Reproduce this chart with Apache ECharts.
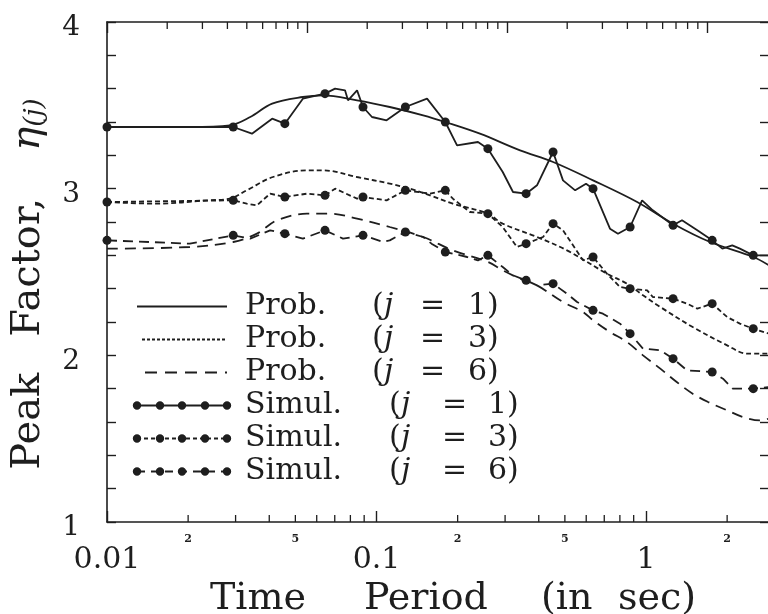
<!DOCTYPE html>
<html>
<head>
<meta charset="utf-8">
<title>Peak Factor vs Time Period</title>
<script src="https://cdn.jsdelivr.net/npm/echarts@6/dist/echarts.min.js"></script>
<style>
  html, body { margin: 0; padding: 0; background: #fff; }
  #chart { width: 768px; height: 614px; }
</style>
</head>
<body>
<div id="chart"></div>
<script>
// time period (sec) and peak factor
var probJ1T = [0.01, 0.0203, 0.0286, 0.034, 0.041, 0.0533, 0.0633, 0.0847, 0.112, 0.149, 0.180, 0.242, 0.341, 0.452, 0.636, 0.927, 1.26, 1.73, 2.50, 2.86];
var probJ1V = [3.37, 3.37, 3.38, 3.43, 3.51, 3.55, 3.56, 3.53, 3.49, 3.44, 3.40, 3.33, 3.23, 3.16, 3.05, 2.92, 2.79, 2.68, 2.59, 2.54];

var probJ3T = [0.01, 0.0153, 0.0235, 0.0286, 0.033, 0.0413, 0.0552, 0.0633, 0.0847, 0.112, 0.133, 0.158, 0.192, 0.259, 0.294, 0.394, 0.509, 0.716, 0.85, 0.975, 1.13, 1.49, 2.0, 2.37, 2.86];
var probJ3V = [2.92, 2.91, 2.93, 2.94, 2.99, 3.07, 3.11, 3.11, 3.07, 3.03, 3.00, 2.96, 2.91, 2.85, 2.79, 2.71, 2.63, 2.49, 2.43, 2.36, 2.29, 2.17, 2.06, 2.01, 2.01];

var probJ6T = [0.01, 0.0203, 0.0294, 0.036, 0.0427, 0.0552, 0.0672, 0.0847, 0.112, 0.149, 0.192, 0.259, 0.294, 0.341, 0.394, 0.492, 0.584, 0.636, 0.735, 0.85, 0.975, 1.13, 1.30, 1.49, 1.70, 2.0, 2.29, 2.65, 2.86];
var probJ6V = [2.64, 2.65, 2.68, 2.73, 2.81, 2.85, 2.85, 2.82, 2.77, 2.71, 2.63, 2.56, 2.51, 2.46, 2.42, 2.32, 2.26, 2.21, 2.14, 2.08, 2.00, 1.92, 1.84, 1.77, 1.72, 1.67, 1.63, 1.61, 1.62];

var simulJ1T = [0.01, 0.0294, 0.0345, 0.041, 0.0457, 0.0533, 0.0644, 0.0702, 0.0764, 0.0784, 0.0847, 0.0891, 0.0962, 0.109, 0.128, 0.154, 0.180, 0.199, 0.238, 0.259, 0.294, 0.321, 0.359, 0.394, 0.452, 0.492, 0.546, 0.599, 0.636, 0.735, 0.787, 0.873, 0.967, 1.06, 1.26, 1.36, 1.55, 1.76, 1.92, 2.09, 2.23, 2.50, 2.86];
var simulJ1V = [3.37, 3.37, 3.33, 3.42, 3.39, 3.54, 3.57, 3.60, 3.59, 3.53, 3.59, 3.49, 3.43, 3.41, 3.49, 3.54, 3.40, 3.26, 3.28, 3.24, 3.10, 2.98, 2.97, 3.02, 3.22, 3.05, 2.99, 3.03, 3.00, 2.76, 2.73, 2.77, 2.93, 2.87, 2.78, 2.81, 2.75, 2.69, 2.64, 2.66, 2.64, 2.60, 2.60];

var simulJ3T = [0.01, 0.0294, 0.033, 0.036, 0.0403, 0.0457, 0.0552, 0.0644, 0.0702, 0.0847, 0.0891, 0.109, 0.128, 0.158, 0.180, 0.192, 0.222, 0.259, 0.294, 0.332, 0.359, 0.415, 0.452, 0.492, 0.584, 0.636, 0.716, 0.801, 0.873, 1.01, 1.06, 1.26, 1.42, 1.55, 1.76, 2.0, 2.23, 2.50, 2.86];
var simulJ3V = [2.92, 2.93, 2.91, 2.90, 2.97, 2.95, 2.97, 2.96, 3.00, 2.94, 2.95, 2.93, 2.99, 2.97, 2.99, 2.94, 2.86, 2.85, 2.77, 2.65, 2.67, 2.71, 2.79, 2.75, 2.57, 2.59, 2.49, 2.41, 2.40, 2.39, 2.35, 2.34, 2.31, 2.28, 2.31, 2.23, 2.19, 2.16, 2.13];

var simulJ6T = [0.01, 0.0203, 0.0294, 0.034, 0.0403, 0.0457, 0.0533, 0.0644, 0.0751, 0.0891, 0.106, 0.112, 0.128, 0.149, 0.16, 0.180, 0.217, 0.238, 0.259, 0.294, 0.321, 0.359, 0.394, 0.452, 0.509, 0.555, 0.636, 0.692, 0.801, 0.873, 0.975, 1.13, 1.26, 1.42, 1.76, 1.93, 2.10, 2.50, 2.86];
var simulJ6V = [2.69, 2.67, 2.72, 2.70, 2.75, 2.73, 2.70, 2.75, 2.70, 2.72, 2.68, 2.69, 2.74, 2.71, 2.67, 2.62, 2.59, 2.57, 2.60, 2.53, 2.48, 2.45, 2.42, 2.43, 2.37, 2.32, 2.27, 2.25, 2.19, 2.13, 2.04, 2.03, 1.98, 1.91, 1.90, 1.86, 1.80, 1.80, 1.81];

// periods where the simulation markers sit
var simulDotT = [0.01, 0.0294, 0.0457, 0.0644, 0.0891, 0.128, 0.180, 0.259, 0.359, 0.452, 0.636, 0.873, 1.26, 1.76, 2.50];

// axis ticks / labels
var xTickValues = [0.01, 0.1, 1];
var xTickLabels = ['0.01', '0.1', '1'];
var xMinorTicks = [0.02, 0.03, 0.04, 0.05, 0.06, 0.07, 0.08, 0.09, 0.2, 0.3, 0.4, 0.5, 0.6, 0.7, 0.8, 0.9, 2];
var xSmallLabelT = [0.02, 0.05, 0.2, 0.5, 2];
var xSmallLabels = ['2', '5', '2', '5', '2'];
var topMinorTicks = [2, 3, 4, 5, 6, 7, 8, 9, 20, 30, 40, 50, 60, 70, 80, 90, 200, 300, 400, 500, 600, 700, 800, 900];

var ink = '#1e1e1e';
var serif = '"DejaVu Serif", serif';

function pairs(t, v) {
    return t.map(function (x, i) { return [x, v[i]]; });
}
function simulData(t, v) {
    return t.map(function (x, i) {
        var dot = simulDotT.indexOf(x) > -1;
        return { value: [x, v[i]], symbol: dot ? 'circle' : 'none' };
    });
}

// legend icons (100 x 10 box), everything wound the same way so overlaps stay filled
var frame = 'M0 0 M100 10 ';
function bar(x1, x2) {
    return 'M' + x1 + ' 4.1 L' + x2 + ' 4.1 L' + x2 + ' 5.9 L' + x1 + ' 5.9 Z ';
}
function dashes(x1, x2, d, g) {
    var s = '';
    for (var x = x1; x < x2; x += d + g) s += bar(x, Math.min(x + d, x2));
    return s;
}
function dots() {
    var s = '', r = 4.2;
    [5, 28, 50, 73, 95].forEach(function (c) {
        s += 'M' + (c - r) + ' 5 A' + r + ' ' + r + ' 0 1 1 ' + (c + r) + ' 5 A' + r + ' ' + r + ' 0 1 1 ' + (c - r) + ' 5 Z ';
    });
    return s;
}
var icons = {
    'Prob. (j = 1)': 'path://' + frame + bar(5, 95),
    'Prob. (j = 3)': 'path://' + frame + dashes(10, 95, 3, 2),
    'Prob. (j = 6)': 'path://' + frame + dashes(13, 95, 12, 8),
    'Simul. (j = 1)': 'path://' + frame + bar(5, 95) + dots(),
    'Simul. (j = 3)': 'path://' + frame + dashes(5, 95, 4, 3) + dots(),
    'Simul. (j = 6)': 'path://' + frame + dashes(5, 95, 8, 6) + dots()
};
var legendNames = ['Prob. (j = 1)', 'Prob. (j = 3)', 'Prob. (j = 6)', 'Simul. (j = 1)', 'Simul. (j = 3)', 'Simul. (j = 6)'];

function lineSeries(name, data, dash, smooth, symbol) {
    return {
        name: name,
        type: 'line',
        data: data,
        smooth: smooth,
        symbol: symbol,
        symbolSize: 9,
        showAllSymbol: true,
        itemStyle: { color: ink },
        lineStyle: { color: ink, width: 1.8, type: dash },
        emphasis: { disabled: true },
        z: 3
    };
}

var chart = echarts.init(document.getElementById('chart'));

function rt(extra) {
    var o = { fontFamily: serif, fontSize: 30, color: ink, lineHeight: 33 };
    for (var e in extra) o[e] = extra[e];
    return o;
}
function nt(size, extra) {
    var o = { fontFamily: serif, fontSize: size, color: ink, align: 'left' };
    for (var e in extra) o[e] = extra[e];
    return o;
}

var option = {
    animation: false,
    backgroundColor: '#fff',
    grid: { left: 107, right: -1, top: 22, bottom: 92, containLabel: false, outerBoundsMode: 'none' },
    legend: {
        orient: 'vertical',
        left: 127,
        top: 285,
        itemWidth: 100,
        itemHeight: 10,
        itemGap: 0,
        selectedMode: false,
        itemStyle: { borderWidth: 0 },
        data: legendNames.map(function (n) { return { name: n, icon: icons[n] }; }),
        formatter: function (name) {
            var m = name.match(/^(\S+) \(j = (\d)\)$/);
            var sim = m[1] === 'Simul.';
            return '{sp| }{' + (sim ? 's' : 'p') + '|' + m[1] + '}{q|(}{' + (sim ? 'js' : 'jp') + '|j}{' +
                (sim ? 'es' : 'ep') + '|=}{n|' + m[2] + ')}';
        },
        textStyle: {
            fontFamily: serif, fontSize: 30, color: ink, lineHeight: 33,
            rich: {
                sp: rt({ width: 8 }),
                p: rt({ width: 127 }),
                s: rt({ width: 144 }),
                q: rt({ width: 12 }),
                jp: rt({ width: 36, fontStyle: 'italic' }),
                js: rt({ width: 41, fontStyle: 'italic' }),
                ep: rt({ width: 48 }),
                es: rt({ width: 46 }),
                n: rt({})
            }
        }
    },
    xAxis: [{
        type: 'log',
        logBase: 10,
        min: 0.01,
        max: 2.86,
        position: 'bottom',
        name: '{w1|Time}{w2|Period}{w3|(in}{w4|sec)}',
        nameLocation: 'middle',
        nameGap: 49,
        nameTextStyle: {
            fontFamily: serif, fontSize: 38, color: ink, padding: [0, 0, 0, 30],
            rich: {
                w1: nt(38, { width: 154 }),
                w2: nt(38, { width: 177 }),
                w3: nt(38, { width: 77 }),
                w4: nt(38, { width: 78 })
            }
        },
        axisLine: { lineStyle: { color: ink, width: 1.6 } },
        axisTick: { inside: true, length: 11, lineStyle: { color: ink, width: 1.4 } },
        axisLabel: {
            margin: 23,
            fontFamily: serif,
            fontSize: 30,
            color: ink,
            showMaxLabel: false,
            formatter: function (v) {
                for (var i = 0; i < xTickValues.length; i++) {
                    if (Math.abs(v - xTickValues[i]) < xTickValues[i] * 1e-6) return xTickLabels[i];
                }
                return '';
            }
        },
        splitLine: { show: false }
    }, {
        type: 'log',
        logBase: 10,
        min: 1,
        max: 2042,
        position: 'top',
        axisLine: { lineStyle: { color: ink, width: 1.6 } },
        axisTick: { inside: true, length: 11, lineStyle: { color: ink, width: 1.4 } },
        axisLabel: { show: false },
        splitLine: { show: false }
    }],
    yAxis: [{
        type: 'value',
        min: 1,
        max: 4,
        interval: 1,
        position: 'left',
        name: '{a|Peak}{b|Factor,}{c|η}{d|(j)}',
        nameLocation: 'middle',
        nameRotate: 90,
        nameGap: 58,
        nameTextStyle: {
            fontFamily: serif, fontSize: 40, color: ink, padding: [0, 24, 0, 0],
            rich: {
                a: nt(40, { width: 133 }),
                b: nt(40, { width: 186 }),
                c: nt(40, { fontStyle: 'italic' }),
                d: nt(26, { fontStyle: 'italic', padding: [12, 0, 0, 0] })
            }
        },
        axisLine: { show: true, lineStyle: { color: ink, width: 1.6 } },
        axisTick: { show: true, inside: true, length: 9, lineStyle: { color: ink, width: 1.4 } },
        minorTick: { show: true, splitNumber: 5, length: 9, lineStyle: { color: ink, width: 1.4 } },
        axisLabel: { margin: 27, fontFamily: serif, fontSize: 28, color: ink, verticalAlign: 'top', lineHeight: 12 },
        splitLine: { show: false },
        minorSplitLine: { show: false }
    }, {
        type: 'value',
        min: 1,
        max: 4,
        interval: 1,
        position: 'right',
        axisLine: { show: true, lineStyle: { color: ink, width: 1.6 } },
        axisTick: { show: true, inside: true, length: 9, lineStyle: { color: ink, width: 1.4 } },
        minorTick: { show: true, splitNumber: 5, length: 9, lineStyle: { color: ink, width: 1.4 } },
        axisLabel: { show: false },
        splitLine: { show: false },
        minorSplitLine: { show: false }
    }],
    series: [
        lineSeries('Prob. (j = 1)', pairs(probJ1T, probJ1V), 'solid', 0.35, 'none'),
        lineSeries('Prob. (j = 3)', pairs(probJ3T, probJ3V), [5, 3], 0.35, 'none'),
        lineSeries('Prob. (j = 6)', pairs(probJ6T, probJ6V), [11, 7], 0.35, 'none'),
        lineSeries('Simul. (j = 1)', simulData(simulJ1T, simulJ1V), 'solid', false, 'circle'),
        lineSeries('Simul. (j = 3)', simulData(simulJ3T, simulJ3V), [5, 3], false, 'circle'),
        lineSeries('Simul. (j = 6)', simulData(simulJ6T, simulJ6V), [10, 6], false, 'circle'),
        {
            // minor ticks of the period axis
            type: 'custom',
            xAxisIndex: 0,
            yAxisIndex: 0,
            silent: true,
            clip: false,
            data: xMinorTicks.map(function (v) { return [v, 1]; }),
            renderItem: function (params, api) {
                var p = api.coord([api.value(0), 1]);
                return { type: 'line', shape: { x1: p[0], y1: p[1], x2: p[0], y2: p[1] - 7 }, style: { stroke: ink, lineWidth: 1.3 } };
            }
        },
        {
            // small 2 / 5 marks under the axis
            type: 'custom',
            xAxisIndex: 0,
            yAxisIndex: 0,
            silent: true,
            clip: false,
            data: xSmallLabelT.map(function (v) { return [v, 1]; }),
            renderItem: function (params, api) {
                var p = api.coord([api.value(0), 1]);
                return {
                    type: 'text', x: p[0], y: p[1] + 17,
                    style: { text: xSmallLabels[params.dataIndex], fill: ink, font: 'bold 11px "DejaVu Serif"', align: 'center', verticalAlign: 'middle' }
                };
            }
        },
        {
            // minor ticks of the top axis
            type: 'custom',
            xAxisIndex: 1,
            yAxisIndex: 0,
            silent: true,
            clip: false,
            data: topMinorTicks.map(function (v) { return [v, 4]; }),
            renderItem: function (params, api) {
                var p = api.coord([api.value(0), 4]);
                return { type: 'line', shape: { x1: p[0], y1: p[1], x2: p[0], y2: p[1] + 7 }, style: { stroke: ink, lineWidth: 1.3 } };
            }
        }
    ]
};

chart.setOption(option);
</script>
</body>
</html>
